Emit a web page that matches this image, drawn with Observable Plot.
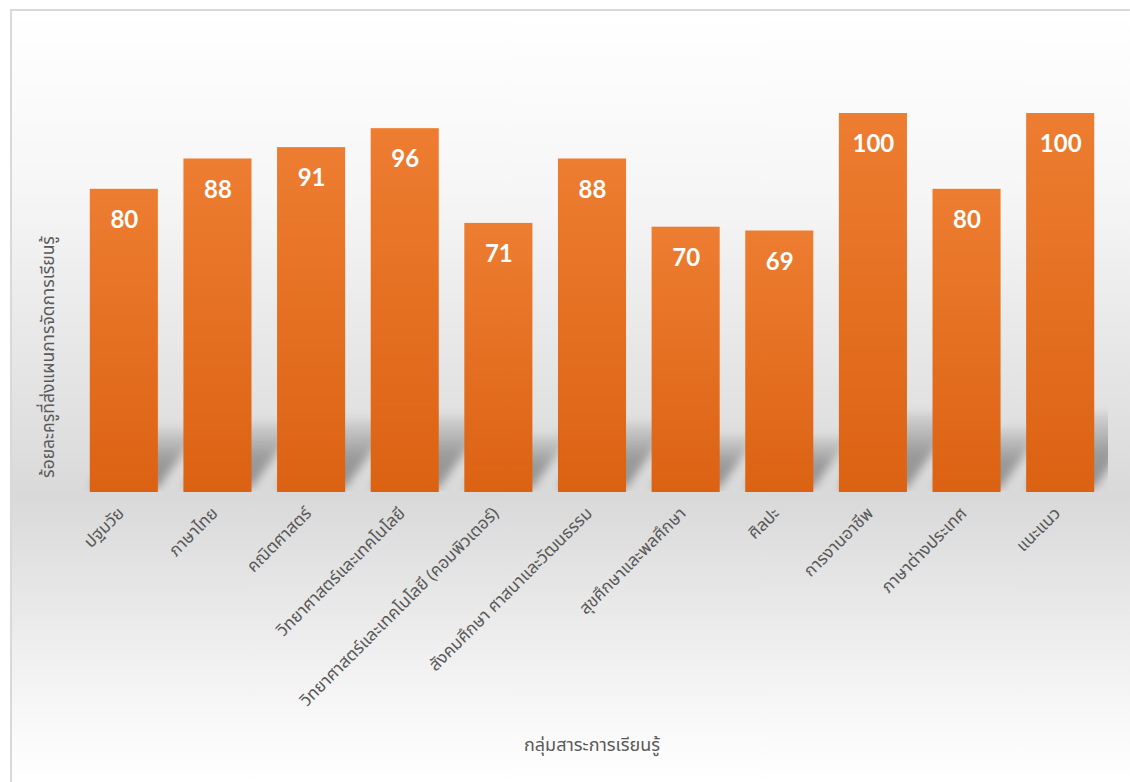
<!DOCTYPE html>
<html>
<head>
<meta charset="utf-8">
<script src="https://cdn.jsdelivr.net/npm/d3@7"></script>
<script src="https://cdn.jsdelivr.net/npm/@observablehq/plot@0.6"></script>
<style>
  html, body { margin: 0; padding: 0; overflow: hidden; width: 1130px; height: 782px; background: #ffffff; }
  #frame {
    position: absolute; left: 10px; top: 9px; width: 1120px; height: 773px;
    border-top: 2px solid #d9d9d9; border-left: 2px solid #d9d9d9;
    box-sizing: border-box;
    background: linear-gradient(to bottom, #ffffff 0px, #f6f6f6 180px, #d9d9d9 485px, #f6f6f6 690px, #ffffff 773px);
  }
  #chart { position: absolute; left: 0; top: 0; }
  .thai { font-family: "Noto Sans Thai", "Noto Sans Thai UI", Tahoma, "Leelawadee UI", "Noto Sans", sans-serif; color: #595959; }
  #xtitle { position: absolute; left: 592px; top: 745px; transform: translate(-50%, -50%); font-size: 18px; white-space: nowrap; }
  #ytitle { position: absolute; left: 48px; top: 357px; transform: translate(-50%, -50%) rotate(-90deg); font-size: 17.5px; white-space: nowrap; }
</style>
</head>
<body>
<div id="frame"></div>
<div id="chart"></div>
<div id="xtitle" class="thai">กลุ่มสาระการเรียนรู้</div>
<div id="ytitle" class="thai">ร้อยละครูที่ส่งแผนการจัดการเรียนรู้</div>
<script>
const categories = [
  "ปฐมวัย",
  "ภาษาไทย",
  "คณิตศาสตร์",
  "วิทยาศาสตร์และเทคโนโลยี",
  "วิทยาศาสตร์และเทคโนโลยี (คอมพิวเตอร์)",
  "สังคมศึกษา ศาสนาและวัฒนธรรม",
  "สุขศึกษาและพลศึกษา",
  "ศิลปะ",
  "การงานอาชีพ",
  "ภาษาต่างประเทศ",
  "แนะแนว"
];
const values = [80, 88, 91, 96, 71, 88, 70, 69, 100, 80, 100];

const data = categories.map((c, i) => ({category: c, value: values[i]}));

const W = 1130, H = 782;
const mLeft = 77, mRight = 23, mTop = 113, mBottom = 290;
const thaiFont = '"Noto Sans Thai", "Noto Sans Thai UI", Tahoma, "Leelawadee UI", "Noto Sans", sans-serif';

const chart = Plot.plot({
  width: W,
  height: H,
  marginLeft: mLeft,
  marginRight: mRight,
  marginTop: mTop,
  marginBottom: mBottom,
  style: {background: "transparent", overflow: "visible", fontFamily: thaiFont},
  x: {domain: categories, paddingInner: 0.273, paddingOuter: 0.1365, round: false, label: null,
      tickRotate: -45, tickSize: 0, tickPadding: 18},
  y: {domain: [0, 100], axis: null},
  marks: [
    Plot.barY(data, {x: "category", y: "value", fill: "url(#shadowGrad)"}),
    Plot.barY(data, {x: "category", y: "value", fill: "url(#barGrad)"}),
    Plot.text(data, {x: "category", y: "value", text: d => String(d.value), dy: 31,
      fill: "#ffffff", fontSize: 24, fontWeight: "bold", fontFamily: "Lato, 'Open Sans', sans-serif"}),
    Plot.axisX({tickRotate: -45, tickSize: 0, tickPadding: 18, fontSize: 17, fill: "#595959", label: null, dx: -3})
  ]
});

document.getElementById("chart").appendChild(chart);

// defs: bar gradient, shadow gradient, blur filter, clip for shadows
const ns = "http://www.w3.org/2000/svg";
const svg = d3.select(chart);
const defs = svg.insert("defs", ":first-child");
const grad = defs.append("linearGradient").attr("id", "barGrad")
  .attr("x1", 0).attr("y1", 0).attr("x2", 0).attr("y2", 1);
grad.append("stop").attr("offset", "0%").attr("stop-color", "#ed7d31");
grad.append("stop").attr("offset", "100%").attr("stop-color", "#dc6213");
const sgrad = defs.append("linearGradient").attr("id", "shadowGrad")
  .attr("x1", 0).attr("y1", 0).attr("x2", 0).attr("y2", 1);
sgrad.append("stop").attr("offset", "0%").attr("stop-color", "#000").attr("stop-opacity", 0.05);
sgrad.append("stop").attr("offset", "55%").attr("stop-color", "#000").attr("stop-opacity", 0.3);
sgrad.append("stop").attr("offset", "100%").attr("stop-color", "#000").attr("stop-opacity", 0.34);
const filt = defs.append("filter").attr("id", "shadowBlur")
  .attr("x", "-30%").attr("y", "-30%").attr("width", "160%").attr("height", "160%");
filt.append("feGaussianBlur").attr("stdDeviation", 5);
defs.append("clipPath").attr("id", "plotClip")
  .append("rect").attr("x", mLeft).attr("y", 0).attr("width", W - mLeft - mRight + 1).attr("height", H - mBottom - 1);

// perspective shadow: squash and skew the first bar mark about the baseline
const baseline = H - mBottom;
const shadowG = chart.querySelector('g[aria-label="bar"]');
if (shadowG) {
  const clipG = document.createElementNS(ns, "g");
  clipG.setAttribute("clip-path", "url(#plotClip)");
  const wrap = document.createElementNS(ns, "g");
  wrap.setAttribute("filter", "url(#shadowBlur)");
  const inner = document.createElementNS(ns, "g");
  inner.setAttribute("transform", `translate(0,${baseline - 4}) skewX(-36) scale(1,0.2) translate(0,${-baseline})`);
  shadowG.parentNode.insertBefore(clipG, shadowG);
  inner.appendChild(shadowG);
  wrap.appendChild(inner);
  clipG.appendChild(wrap);
}
</script>
</body>
</html>
